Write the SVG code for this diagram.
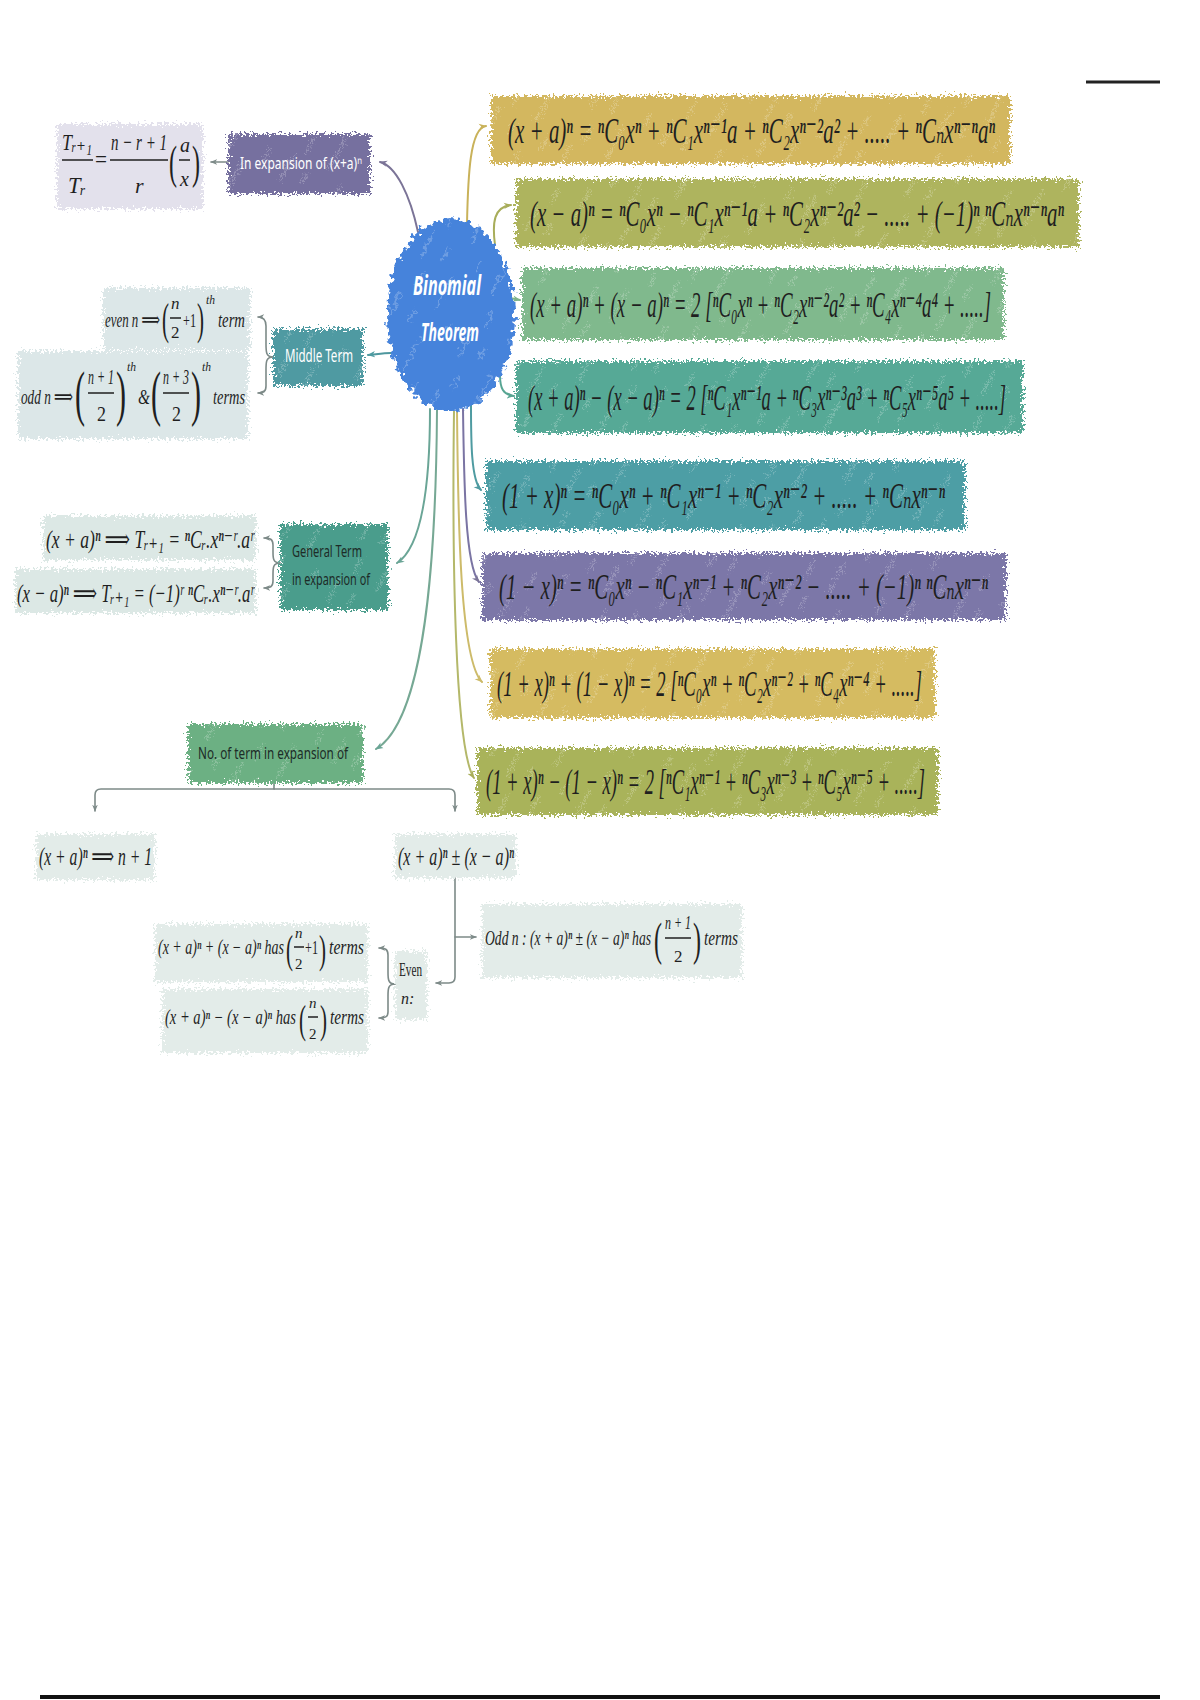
<svg xmlns="http://www.w3.org/2000/svg" width="1200" height="1700" viewBox="0 0 1200 1700">
<style>
.m{font-family:"Liberation Serif","DejaVu Serif",serif;font-style:italic;fill:#1f1f1f}
.hw{font-family:"Noto Sans","Liberation Sans",sans-serif}
.wt{fill:#ffffff}
.dk{fill:#1d2b27}
.c{fill:none;stroke-width:2;stroke-linecap:round}
.g{fill:none;stroke:#7d8a88;stroke-width:1.6;stroke-linecap:round}
.up{font-style:normal}
.bar{stroke:#1f1f1f;stroke-width:1.5}
</style>
<defs>
<filter id="rough" filterUnits="userSpaceOnUse" x="0" y="0" width="1200" height="1700" color-interpolation-filters="sRGB">
<feTurbulence type="fractalNoise" baseFrequency="0.45" numOctaves="2" seed="5" result="t"/>
<feDisplacementMap in="SourceGraphic" in2="t" scale="14" xChannelSelector="R" yChannelSelector="G"/>
</filter>
<filter id="rough2" filterUnits="userSpaceOnUse" x="0" y="0" width="1200" height="1700" color-interpolation-filters="sRGB">
<feTurbulence type="fractalNoise" baseFrequency="0.18" numOctaves="2" seed="9" result="t"/>
<feDisplacementMap in="SourceGraphic" in2="t" scale="14" xChannelSelector="R" yChannelSelector="G"/>
</filter>
<pattern id="hatch" width="80" height="70" patternUnits="userSpaceOnUse" patternTransform="rotate(28)">
<path d="M12,0 V28 M50,30 V66 M32,8 V22 M68,4 V18 M22,44 V62" stroke="#ffffff" stroke-opacity="0.35" stroke-width="1.2"/>
</pattern>
<marker id="aP" viewBox="0 0 10 10" refX="9" refY="5" markerWidth="8" markerHeight="8" markerUnits="userSpaceOnUse" orient="auto"><path d="M0,1 L10,5 L0,9 L3,5 z" fill="#7b7497"/></marker>
<marker id="aG" viewBox="0 0 10 10" refX="9" refY="5" markerWidth="8" markerHeight="8" markerUnits="userSpaceOnUse" orient="auto"><path d="M0,1 L10,5 L0,9 L3,5 z" fill="#c9b25a"/></marker>
<marker id="aO" viewBox="0 0 10 10" refX="9" refY="5" markerWidth="8" markerHeight="8" markerUnits="userSpaceOnUse" orient="auto"><path d="M0,1 L10,5 L0,9 L3,5 z" fill="#a8ad5a"/></marker>
<marker id="aL" viewBox="0 0 10 10" refX="9" refY="5" markerWidth="8" markerHeight="8" markerUnits="userSpaceOnUse" orient="auto"><path d="M0,1 L10,5 L0,9 L3,5 z" fill="#7fb38a"/></marker>
<marker id="aE" viewBox="0 0 10 10" refX="9" refY="5" markerWidth="8" markerHeight="8" markerUnits="userSpaceOnUse" orient="auto"><path d="M0,1 L10,5 L0,9 L3,5 z" fill="#57a592"/></marker>
<marker id="aT" viewBox="0 0 10 10" refX="9" refY="5" markerWidth="8" markerHeight="8" markerUnits="userSpaceOnUse" orient="auto"><path d="M0,1 L10,5 L0,9 L3,5 z" fill="#4f9ba1"/></marker>
<marker id="aY" viewBox="0 0 10 10" refX="9" refY="5" markerWidth="8" markerHeight="8" markerUnits="userSpaceOnUse" orient="auto"><path d="M0,1 L10,5 L0,9 L3,5 z" fill="#cdbb6a"/></marker>
<marker id="aH" viewBox="0 0 10 10" refX="9" refY="5" markerWidth="8" markerHeight="8" markerUnits="userSpaceOnUse" orient="auto"><path d="M0,1 L10,5 L0,9 L3,5 z" fill="#6aa596"/></marker>
<marker id="aK" viewBox="0 0 10 10" refX="9" refY="5" markerWidth="7" markerHeight="7" markerUnits="userSpaceOnUse" orient="auto"><path d="M0,1 L10,5 L0,9 L3,5 z" fill="#7d8a88"/></marker>
</defs>
<rect width="1200" height="1700" fill="#ffffff"/>

<g id="connectors">
<path class="c" stroke="#7b7497" d="M418,232 C410,195 396,166 380,162" marker-end="url(#aP)"/>
<path class="c" stroke="#c9b25a" d="M467,224 C468,175 470,128 486,126" marker-end="url(#aG)"/>
<path class="c" stroke="#a8ad5a" d="M495,245 C492,222 494,207 511,205" marker-end="url(#aO)"/>
<path class="c" stroke="#7fb38a" d="M510,298 L520,300" marker-end="url(#aL)"/>
<path class="c" stroke="#57a592" d="M500,375 C500,388 503,395 514,396" marker-end="url(#aE)"/>
<path class="c" stroke="#4f9ba1" d="M471,405 C471,440 471,480 481,490" marker-end="url(#aT)"/>
<path class="c" stroke="#7a74a3" d="M463,409 C464,480 465,565 479,582" marker-end="url(#aP)"/>
<path class="c" stroke="#cdbb6a" d="M457,410 C458,520 460,660 482,682" marker-end="url(#aY)"/>
<path class="c" stroke="#b4b86a" d="M454,411 C452,560 455,750 474,778" marker-end="url(#aO)"/>
<path class="c" stroke="#6aa596" d="M430,409 C430,470 425,545 397,563" marker-end="url(#aH)"/>
<path class="c" stroke="#76a894" d="M437,410 C436,560 425,720 376,749" marker-end="url(#aH)"/>
<path class="c" stroke="#4e979e" d="M391,353 C384,353 378,354 368,355" marker-end="url(#aT)"/>
<path class="g" d="M228,162 L211,162" marker-end="url(#aK)"/>
<path class="g" d="M273,357 C266,357 266,352 266,344 L266,326 C266,319 263,317 258,317" marker-end="url(#aK)"/>
<path class="g" d="M273,357 C266,357 266,362 266,370 L266,386 C266,392 263,393 258,393" marker-end="url(#aK)"/>
<path class="g" d="M280,563 C273,563 273,558 273,552 L273,545 C273,539 270,538 264,538" marker-end="url(#aK)"/>
<path class="g" d="M280,563 C273,563 273,568 273,574 L273,581 C273,587 270,588 264,588" marker-end="url(#aK)"/>
<path class="g" stroke="#8a9c96" stroke-width="2" d="M274,783 L274,789 L101,789 Q95,789 95,795 L95,811" marker-end="url(#aK)"/>
<path class="g" stroke="#8a9c96" stroke-width="2" d="M274,789 L449,789 Q455,789 455,795 L455,811" marker-end="url(#aK)"/>
<path class="g" d="M455,878 L455,977 Q455,983 449,983 L436,983" marker-end="url(#aK)"/>
<path class="g" d="M455,937 L476,937" marker-end="url(#aK)"/>
<path class="g" d="M395,984 C388,984 388,979 388,972 L388,955 C388,949 385,948 379,948" marker-end="url(#aK)"/>
<path class="g" d="M395,984 C388,984 388,989 388,996 L388,1012 C388,1017 385,1018 379,1018" marker-end="url(#aK)"/>
</g>

<g id="center">
<ellipse cx="451" cy="315" rx="64" ry="96" fill="#4683db" filter="url(#rough2)"/>
<ellipse cx="451" cy="315" rx="64" ry="96" fill="url(#hatch)" filter="url(#rough2)"/>
<text class="hw wt" font-size="14" font-weight="bold" font-style="italic" text-anchor="middle" textLength="68" lengthAdjust="spacingAndGlyphs" transform="translate(447,295) scale(1,1.85)">Binomial</text>
<text class="hw wt" font-size="12.5" font-weight="bold" font-style="italic" text-anchor="middle" textLength="58" lengthAdjust="spacingAndGlyphs" transform="translate(450,341) scale(1,2.05)">Theorem</text>
</g>

<g id="n1">
<rect x="491" y="96" width="519" height="68" fill="#d3b75f" filter="url(#rough)"/>
<rect x="491" y="96" width="519" height="68" fill="url(#hatch)" filter="url(#rough)"/>
<text class="m" font-size="20.8" textLength="487" lengthAdjust="spacingAndGlyphs" transform="translate(508,143) scale(1,1.73)">(x + a)ⁿ = ⁿC₀xⁿ + ⁿC₁xⁿ⁻¹a + ⁿC₂xⁿ⁻²a² + ..... + ⁿCₙxⁿ⁻ⁿaⁿ</text>
</g>

<g id="n2">
<rect x="516" y="179" width="563" height="68" fill="#aeb45e" filter="url(#rough)"/>
<rect x="516" y="179" width="563" height="68" fill="url(#hatch)" filter="url(#rough)"/>
<text class="m" font-size="20.7" textLength="534" lengthAdjust="spacingAndGlyphs" transform="translate(530,226) scale(1,1.74)">(x − a)ⁿ = ⁿC₀xⁿ − ⁿC₁xⁿ⁻¹a + ⁿC₂xⁿ⁻²a² − ..... + (−1)ⁿ ⁿCₙxⁿ⁻ⁿaⁿ</text>
</g>

<g id="n3">
<rect x="522" y="268" width="482" height="72" fill="#80b98d" filter="url(#rough)"/>
<rect x="522" y="268" width="482" height="72" fill="url(#hatch)" filter="url(#rough)"/>
<text class="m" font-size="18.7" textLength="461" lengthAdjust="spacingAndGlyphs" transform="translate(530,317) scale(1,1.93)">(x + a)ⁿ + (x − a)ⁿ = 2 [ⁿC₀xⁿ + ⁿC₂xⁿ⁻²a² + ⁿC₄xⁿ⁻⁴a⁴ + .....]</text>
</g>

<g id="n4">
<rect x="516" y="361" width="507" height="72" fill="#56a996" filter="url(#rough)"/>
<rect x="516" y="361" width="507" height="72" fill="url(#hatch)" filter="url(#rough)"/>
<text class="m" font-size="18.4" textLength="478" lengthAdjust="spacingAndGlyphs" transform="translate(528,410) scale(1,1.96)">(x + a)ⁿ − (x − a)ⁿ = 2 [ⁿC₁xⁿ⁻¹a + ⁿC₃xⁿ⁻³a³ + ⁿC₅xⁿ⁻⁵a⁵ + .....]</text>
</g>

<g id="n5">
<rect x="486" y="461" width="479" height="69" fill="#4d9ea5" filter="url(#rough)"/>
<rect x="486" y="461" width="479" height="69" fill="url(#hatch)" filter="url(#rough)"/>
<text class="m" font-size="20.9" textLength="443" lengthAdjust="spacingAndGlyphs" transform="translate(502,508) scale(1,1.72)">(1 + x)ⁿ = ⁿC₀xⁿ + ⁿC₁xⁿ⁻¹ + ⁿC₂xⁿ⁻² + ..... + ⁿCₙxⁿ⁻ⁿ</text>
</g>

<g id="n6">
<rect x="482" y="553" width="524" height="67" fill="#7c77a8" filter="url(#rough)"/>
<rect x="482" y="553" width="524" height="67" fill="url(#hatch)" filter="url(#rough)"/>
<text class="m" font-size="20.7" textLength="489" lengthAdjust="spacingAndGlyphs" transform="translate(499,599) scale(1,1.74)">(1 − x)ⁿ = ⁿC₀xⁿ − ⁿC₁xⁿ⁻¹ + ⁿC₂xⁿ⁻² − ..... + (−1)ⁿ ⁿCₙxⁿ⁻ⁿ</text>
</g>

<g id="n7">
<rect x="490" y="649" width="445" height="69" fill="#d5bb61" filter="url(#rough)"/>
<rect x="490" y="649" width="445" height="69" fill="url(#hatch)" filter="url(#rough)"/>
<text class="m" font-size="18.4" textLength="425" lengthAdjust="spacingAndGlyphs" transform="translate(497,696) scale(1,1.96)">(1 + x)ⁿ + (1 − x)ⁿ = 2 [ⁿC₀xⁿ + ⁿC₂xⁿ⁻² + ⁿC₄xⁿ⁻⁴ + .....]</text>
</g>

<g id="n8">
<rect x="477" y="748" width="461" height="67" fill="#a9b35a" filter="url(#rough)"/>
<rect x="477" y="748" width="461" height="67" fill="url(#hatch)" filter="url(#rough)"/>
<text class="m" font-size="18.5" textLength="439" lengthAdjust="spacingAndGlyphs" transform="translate(486,794) scale(1,1.95)">(1 + x)ⁿ − (1 − x)ⁿ = 2 [ⁿC₁xⁿ⁻¹ + ⁿC₃xⁿ⁻³ + ⁿC₅xⁿ⁻⁵ + .....]</text>
</g>

<g id="in-expansion">
<rect x="228" y="134" width="142" height="60" fill="#76709f" filter="url(#rough)"/>
<rect x="228" y="134" width="142" height="60" fill="url(#hatch)" filter="url(#rough)"/>
<text class="hw wt" font-size="11" textLength="122" lengthAdjust="spacingAndGlyphs" transform="translate(240,169) scale(1,1.5)">In expansion of (x+a)ⁿ</text>
</g>

<g id="ratio">
<rect x="57" y="124" width="146" height="85" fill="#e3e1ec" filter="url(#rough)"/>
<text class="m" font-size="18" textLength="30" lengthAdjust="spacingAndGlyphs" transform="translate(62,150) scale(1,1.33)">Tᵣ₊₁</text>
<line class="bar" x1="62" y1="160" x2="93" y2="160"/>
<text class="m" font-size="19.5" textLength="18" lengthAdjust="spacingAndGlyphs" transform="translate(68,193) scale(1,1.23)">Tᵣ</text>
<text class="m up" font-size="19.5" textLength="12" lengthAdjust="spacingAndGlyphs" transform="translate(95,167) scale(1,1.2)">=</text>
<text class="m" font-size="14" textLength="56" lengthAdjust="spacingAndGlyphs" transform="translate(111,150) scale(1,1.7)">n − r + 1</text>
<line class="bar" x1="110" y1="160" x2="168" y2="160"/>
<text class="m" font-size="22" x="135" y="193">r</text>
<text class="m up" font-size="22.5" textLength="8" lengthAdjust="spacingAndGlyphs" transform="translate(169,178) scale(1,2.1)">(</text>
<text class="m" font-size="20" x="180" y="152">a</text>
<line class="bar" x1="179" y1="160" x2="190" y2="160"/>
<text class="m" font-size="20" x="180" y="186">x</text>
<text class="m up" font-size="22.5" textLength="8" lengthAdjust="spacingAndGlyphs" transform="translate(192,178) scale(1,2.1)">)</text>
</g>

<g id="middle-term">
<rect x="273" y="329" width="90" height="57" fill="#4f9aa2" filter="url(#rough)"/>
<rect x="273" y="329" width="90" height="57" fill="url(#hatch)" filter="url(#rough)"/>
<text class="hw wt" font-size="10.6" textLength="68" lengthAdjust="spacingAndGlyphs" transform="translate(285,362) scale(1,1.7)">Middle Term</text>
</g>

<g id="even-middle">
<rect x="103" y="288" width="147" height="62" fill="#dce7e8" filter="url(#rough)"/>
<text class="m" font-size="13.4" textLength="55" lengthAdjust="spacingAndGlyphs" transform="translate(105,327) scale(1,1.64)">even n ⟹</text>
<text class="m up" font-size="19.5" textLength="7" lengthAdjust="spacingAndGlyphs" transform="translate(162,334) scale(1,2.25)">(</text>
<text class="m" font-size="17" x="171" y="309">n</text>
<line class="bar" x1="170" y1="318" x2="181" y2="318"/>
<text class="m up" font-size="17" x="171" y="338">2</text>
<text class="m up" font-size="10.2" textLength="13" lengthAdjust="spacingAndGlyphs" transform="translate(183,327) scale(1,1.95)">+1</text>
<text class="m up" font-size="19.5" textLength="7" lengthAdjust="spacingAndGlyphs" transform="translate(197,334) scale(1,2.25)">)</text>
<text class="m" font-size="10.8" textLength="9" lengthAdjust="spacingAndGlyphs" transform="translate(206,304) scale(1,1.1)">th</text>
<text class="m" font-size="13.7" textLength="27" lengthAdjust="spacingAndGlyphs" transform="translate(218,327) scale(1,1.6)">term</text>
</g>

<g id="odd-middle">
<rect x="18" y="351" width="230" height="88" fill="#dce7e8" filter="url(#rough)"/>
<text class="m" font-size="13.9" textLength="52" lengthAdjust="spacingAndGlyphs" transform="translate(21,404) scale(1,1.58)">odd n ⟹</text>
<text class="m up" font-size="28.5" textLength="10" lengthAdjust="spacingAndGlyphs" transform="translate(75,414) scale(1,2.17)">(</text>
<text class="m" font-size="11.2" textLength="26" lengthAdjust="spacingAndGlyphs" transform="translate(88,384) scale(1,1.78)">n + 1</text>
<line class="bar" x1="88" y1="393" x2="114" y2="393"/>
<text class="m up" font-size="17" textLength="9" lengthAdjust="spacingAndGlyphs" transform="translate(97,421) scale(1,1.18)">2</text>
<text class="m up" font-size="28.5" textLength="10" lengthAdjust="spacingAndGlyphs" transform="translate(116,414) scale(1,2.17)">)</text>
<text class="m" font-size="10.8" textLength="9" lengthAdjust="spacingAndGlyphs" transform="translate(127,371) scale(1,1.1)">th</text>
<text class="m" font-size="14.6" textLength="12" lengthAdjust="spacingAndGlyphs" transform="translate(138,404) scale(1,1.5)">&amp;</text>
<text class="m up" font-size="28.5" textLength="10" lengthAdjust="spacingAndGlyphs" transform="translate(151,414) scale(1,2.17)">(</text>
<text class="m" font-size="11.2" textLength="26" lengthAdjust="spacingAndGlyphs" transform="translate(163,384) scale(1,1.78)">n + 3</text>
<line class="bar" x1="163" y1="393" x2="189" y2="393"/>
<text class="m up" font-size="17" textLength="9" lengthAdjust="spacingAndGlyphs" transform="translate(172,421) scale(1,1.18)">2</text>
<text class="m up" font-size="28.5" textLength="10" lengthAdjust="spacingAndGlyphs" transform="translate(191,414) scale(1,2.17)">)</text>
<text class="m" font-size="10.8" textLength="9" lengthAdjust="spacingAndGlyphs" transform="translate(202,371) scale(1,1.1)">th</text>
<text class="m" font-size="13.5" textLength="32" lengthAdjust="spacingAndGlyphs" transform="translate(213,404) scale(1,1.63)">terms</text>
</g>

<g id="general-term">
<rect x="280" y="524" width="108" height="86" fill="#4a9d8c" filter="url(#rough)"/>
<rect x="280" y="524" width="108" height="86" fill="url(#hatch)" filter="url(#rough)"/>
<text class="hw dk" font-size="10.2" textLength="70" lengthAdjust="spacingAndGlyphs" transform="translate(292,557) scale(1,1.65)">General Term</text>
<text class="hw dk" font-size="10.2" textLength="78" lengthAdjust="spacingAndGlyphs" transform="translate(292,585) scale(1,1.65)">in expansion of</text>
</g>

<g id="general-plus">
<rect x="43" y="516" width="213" height="44" fill="#dce8e5" filter="url(#rough)"/>
<text class="m" font-size="17" textLength="208" lengthAdjust="spacingAndGlyphs" transform="translate(46,548) scale(1,1.53)">(x + a)ⁿ ⟹ Tᵣ₊₁ = ⁿCᵣ.xⁿ⁻ʳ.aʳ</text>
</g>

<g id="general-minus">
<rect x="15" y="569" width="241" height="44" fill="#dce8e5" filter="url(#rough)"/>
<text class="m" font-size="16" textLength="237" lengthAdjust="spacingAndGlyphs" transform="translate(17,602) scale(1,1.62)">(x − a)ⁿ ⟹ Tᵣ₊₁ = (−1)ʳ ⁿCᵣ.xⁿ⁻ʳ.aʳ</text>
</g>

<g id="no-of-terms">
<rect x="188" y="724" width="175" height="59" fill="#6cb083" filter="url(#rough)"/>
<rect x="188" y="724" width="175" height="59" fill="url(#hatch)" filter="url(#rough)"/>
<text class="hw dk" font-size="10.6" textLength="150" lengthAdjust="spacingAndGlyphs" transform="translate(198,759) scale(1,1.6)">No. of term in expansion of</text>
</g>

<g id="count-single">
<rect x="36" y="834" width="119" height="46" fill="#e3ece9" filter="url(#rough)"/>
<text class="m" font-size="15.4" textLength="113" lengthAdjust="spacingAndGlyphs" transform="translate(39,865) scale(1,1.68)">(x + a)ⁿ ⟹ n + 1</text>
</g>

<g id="count-pair">
<rect x="395" y="834" width="121" height="44" fill="#e3ece9" filter="url(#rough)"/>
<text class="m" font-size="14.8" textLength="116" lengthAdjust="spacingAndGlyphs" transform="translate(398,865) scale(1,1.75)">(x + a)ⁿ ± (x − a)ⁿ</text>
</g>

<g id="odd-count">
<rect x="482" y="904" width="260" height="74" fill="#e3ece9" filter="url(#rough)"/>
<text class="m" font-size="12.7" textLength="166" lengthAdjust="spacingAndGlyphs" transform="translate(485,945) scale(1,1.65)">Odd n : (x + a)ⁿ ± (x − a)ⁿ has</text>
<text class="m up" font-size="22.5" textLength="8" lengthAdjust="spacingAndGlyphs" transform="translate(654,955) scale(1,2.05)">(</text>
<text class="m" font-size="10.9" textLength="26" lengthAdjust="spacingAndGlyphs" transform="translate(665,929) scale(1,1.65)">n + 1</text>
<line class="bar" x1="665" y1="938" x2="691" y2="938"/>
<text class="m up" font-size="17" x="674" y="962">2</text>
<text class="m up" font-size="22.5" textLength="8" lengthAdjust="spacingAndGlyphs" transform="translate(693,955) scale(1,2.05)">)</text>
<text class="m" font-size="14" textLength="34" lengthAdjust="spacingAndGlyphs" transform="translate(704,945) scale(1,1.5)">terms</text>
</g>

<g id="even-label">
<rect x="395" y="951" width="32" height="69" fill="#e3ece9" filter="url(#rough)"/>
<text class="m up" font-size="10.3" textLength="23" lengthAdjust="spacingAndGlyphs" transform="translate(399,976) scale(1,1.75)">Even</text>
<text class="m" font-size="16" x="401" y="1004">n:</text>
</g>

<g id="even-plus">
<rect x="155" y="924" width="213" height="58" fill="#e3ece9" filter="url(#rough)"/>
<text class="m" font-size="13" textLength="126" lengthAdjust="spacingAndGlyphs" transform="translate(158,954) scale(1,1.54)">(x + a)ⁿ + (x − a)ⁿ has</text>
<text class="m up" font-size="19.5" textLength="7" lengthAdjust="spacingAndGlyphs" transform="translate(286,963) scale(1,2.05)">(</text>
<text class="m" font-size="15" x="295" y="938">n</text>
<line class="bar" x1="294" y1="947" x2="304" y2="947"/>
<text class="m up" font-size="15" x="295" y="969">2</text>
<text class="m up" font-size="10.4" textLength="13" lengthAdjust="spacingAndGlyphs" transform="translate(305,954) scale(1,1.75)">+1</text>
<text class="m up" font-size="19.5" textLength="7" lengthAdjust="spacingAndGlyphs" transform="translate(319,963) scale(1,2.05)">)</text>
<text class="m" font-size="14.4" textLength="35" lengthAdjust="spacingAndGlyphs" transform="translate(329,954) scale(1,1.39)">terms</text>
</g>

<g id="even-minus">
<rect x="162" y="989" width="206" height="64" fill="#e3ece9" filter="url(#rough)"/>
<text class="m" font-size="13.5" textLength="131" lengthAdjust="spacingAndGlyphs" transform="translate(165,1024) scale(1,1.48)">(x + a)ⁿ − (x − a)ⁿ has</text>
<text class="m up" font-size="19.5" textLength="7" lengthAdjust="spacingAndGlyphs" transform="translate(299,1033) scale(1,2.05)">(</text>
<text class="m" font-size="15" x="309" y="1008">n</text>
<line class="bar" x1="308" y1="1017" x2="318" y2="1017"/>
<text class="m up" font-size="15" x="309" y="1039">2</text>
<text class="m up" font-size="19.5" textLength="7" lengthAdjust="spacingAndGlyphs" transform="translate(320,1033) scale(1,2.05)">)</text>
<text class="m" font-size="14" textLength="34" lengthAdjust="spacingAndGlyphs" transform="translate(330,1024) scale(1,1.43)">terms</text>
</g>

<line x1="1086" y1="82" x2="1160" y2="82" stroke="#222222" stroke-width="3"/>
<rect x="40" y="1695" width="1120" height="4" fill="#111111"/>
</svg>
